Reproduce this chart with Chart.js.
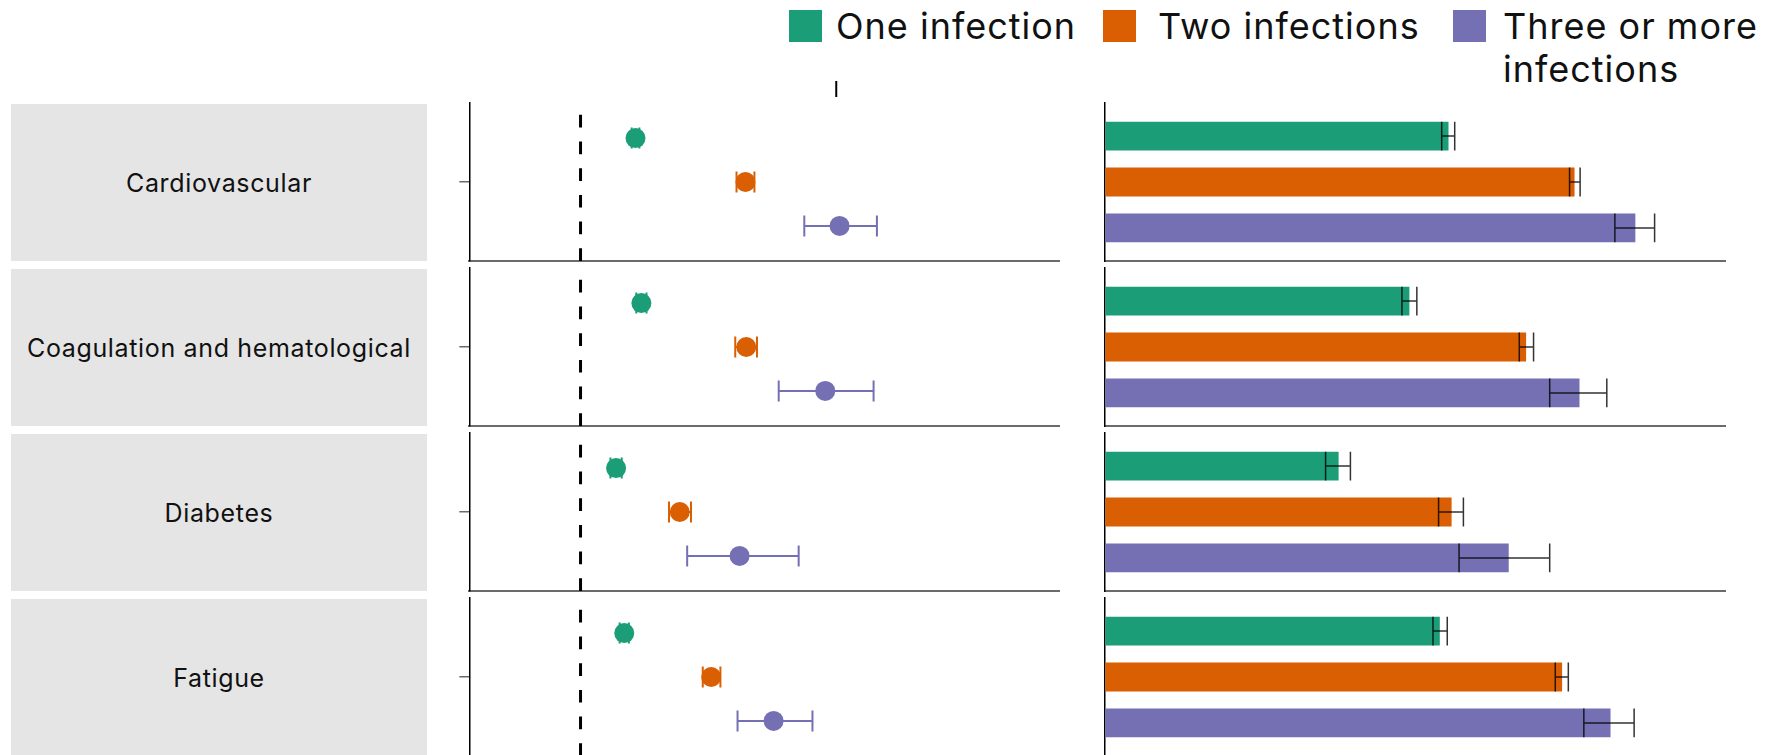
<!DOCTYPE html>
<html>
<head>
<meta charset="utf-8">
<script src="https://cdn.jsdelivr.net/npm/chart.js@4.4.0/dist/chart.umd.min.js"></script>
<style>
  html, body { margin: 0; padding: 0; background: #fff; }
  body {
    width: 1773px; height: 755px; position: relative; overflow: hidden;
    font-family: Inter, "Open Sans", sans-serif; color: #111;
  }
  .swatch { position: absolute; top: 10px; width: 33px; height: 32px; }
  .legend-text { position: absolute; top: 4.5px; font-size: 36px; line-height: 43px; letter-spacing: 1px; white-space: normal; }
  .label-box {
    position: absolute; left: 11px; width: 416px; height: 157px; background: #e5e5e5;
    display: flex; align-items: center; justify-content: center; font-size: 25px; letter-spacing: 0.65px;
  }
  canvas { position: absolute; }
</style>
</head>
<body>
<script>
// categories (one row of panels each)
const categories = ['Cardiovascular', 'Coagulation and hematological', 'Diabetes', 'Fatigue']
const seriesNames = ['One infection', 'Two infections', 'Three or more infections']
const seriesColors = ['#1b9e77', '#d95f02', '#7570b3']

// hazard ratios with 95% CI (left panels)
const hrOne     = [1.215, 1.238, 1.139, 1.171]
const hrOneLo   = [1.200, 1.218, 1.117, 1.153]
const hrOneHi   = [1.230, 1.258, 1.161, 1.189]
const hrTwo     = [1.645, 1.648, 1.388, 1.511]
const hrTwoLo   = [1.610, 1.605, 1.346, 1.478]
const hrTwoHi   = [1.680, 1.690, 1.432, 1.547]
const hrThree   = [2.013, 1.957, 1.622, 1.755]
const hrThreeLo = [1.875, 1.775, 1.417, 1.614]
const hrThreeHi = [2.159, 2.146, 1.853, 1.907]

// burden with 95% CI (right panels)
const burdenOne     = [55.3, 49.0, 37.6, 53.9]
const burdenOneLo   = [54.2, 47.8, 35.5, 52.8]
const burdenOneHi   = [56.3, 50.2, 39.5, 55.1]
const burdenTwo     = [75.6, 67.8, 55.8, 73.6]
const burdenTwoLo   = [74.8, 66.7, 53.7, 72.5]
const burdenTwoHi   = [76.5, 69.0, 57.7, 74.6]
const burdenThree   = [85.4, 76.4, 65.0, 81.4]
const burdenThreeLo = [82.1, 71.6, 57.0, 77.1]
const burdenThreeHi = [88.5, 80.8, 71.6, 85.2]

const hrSeries = [[hrOne, hrOneLo, hrOneHi], [hrTwo, hrTwoLo, hrTwoHi], [hrThree, hrThreeLo, hrThreeHi]]
const burdenSeries = [[burdenOne, burdenOneLo, burdenOneHi], [burdenTwo, burdenTwoLo, burdenTwoHi], [burdenThree, burdenThreeLo, burdenThreeHi]]

// layout
const rowTop0 = 103.3
const rowStep = 165
const padTop = 30

// legend (html)
const swatchLeft = [789, 1103, 1453]
const textLeft = [836, 1158, 1503]
seriesNames.forEach((name, i) => {
    const sw = document.createElement('div')
    sw.className = 'swatch'
    sw.style.left = swatchLeft[i] + 'px'
    sw.style.background = seriesColors[i]
    document.body.appendChild(sw)
    const tx = document.createElement('div')
    tx.className = 'legend-text'
    tx.style.left = textLeft[i] + 'px'
    if (i === 2) tx.style.width = '262px'
    tx.textContent = name
    document.body.appendChild(tx)
})

// HR = 1 reference line, CI whiskers, and the stray top tick
const forestExtras = {
    id: 'forestExtras',
    beforeDatasetsDraw(chart, args, opts) {
        const { ctx, chartArea, scales: { x, y } } = chart
        ctx.save()
        const x1 = x.getPixelForValue(1)
        ctx.strokeStyle = '#000'
        ctx.lineWidth = 3
        ctx.setLineDash([12.7, 14])
        ctx.beginPath()
        ctx.moveTo(x1, chartArea.bottom)
        ctx.lineTo(x1, chartArea.top)
        ctx.stroke()
        ctx.setLineDash([])

        chart.data.datasets.forEach(ds => {
            ctx.strokeStyle = ds.backgroundColor
            ctx.lineWidth = 2
            ds.data.forEach(pt => {
                const yp = y.getPixelForValue(pt.y)
                const lo = x.getPixelForValue(pt.lo)
                const hi = x.getPixelForValue(pt.hi)
                ctx.beginPath()
                ctx.moveTo(lo, yp); ctx.lineTo(hi, yp)
                ctx.moveTo(lo, yp - 10.5); ctx.lineTo(lo, yp + 10.5)
                ctx.moveTo(hi, yp - 10.5); ctx.lineTo(hi, yp + 10.5)
                ctx.stroke()
            })
        })

        if (opts.topTick) {
            const xt = x.getPixelForValue(opts.topTick)
            ctx.strokeStyle = '#000'
            ctx.lineWidth = 2
            ctx.beginPath()
            ctx.moveTo(xt, chartArea.top - 22)
            ctx.lineTo(xt, chartArea.top - 6)
            ctx.stroke()
        }
        ctx.restore()
    }
}

// CI whiskers on the bars
const barErrors = {
    id: 'barErrors',
    afterDatasetsDraw(chart) {
        const { ctx, scales: { x } } = chart
        ctx.save()
        ctx.strokeStyle = 'rgba(0,0,0,0.8)'
        ctx.lineWidth = 1.5
        chart.data.datasets.forEach((ds, d) => {
            const meta = chart.getDatasetMeta(d)
            ds.data.forEach((pt, j) => {
                const { y: yp, height: h } = meta.data[j].getProps(['y', 'height'], true)
                const lo = x.getPixelForValue(pt.lo)
                const hi = x.getPixelForValue(pt.hi)
                ctx.beginPath()
                ctx.moveTo(lo, yp); ctx.lineTo(hi, yp)
                ctx.moveTo(lo, yp - h / 2); ctx.lineTo(lo, yp + h / 2)
                ctx.moveTo(hi, yp - h / 2); ctx.lineTo(hi, yp + h / 2)
                ctx.stroke()
            })
        })
        ctx.restore()
    }
}

function makeCanvas(left, top, width, height) {
    const c = document.createElement('canvas')
    c.width = width
    c.height = height
    c.style.left = left + 'px'
    c.style.top = top + 'px'
    c.style.width = width + 'px'
    c.style.height = height + 'px'
    document.body.appendChild(c)
    return c
}

categories.forEach((cat, i) => {
    const top = rowTop0 + rowStep * i

    const box = document.createElement('div')
    box.className = 'label-box'
    box.style.top = (top + 0.7) + 'px'
    box.textContent = cat
    document.body.appendChild(box)

    // forest plot
    const fc = makeCanvas(440, top - padTop, 620, padTop + 158 + 4)
    new Chart(fc, {
        type: 'scatter',
        data: {
            datasets: seriesNames.map((name, s) => ({
                label: name,
                data: [{ x: hrSeries[s][0][i], y: s + 1, lo: hrSeries[s][1][i], hi: hrSeries[s][2][i] }],
                backgroundColor: seriesColors[s],
                borderWidth: 0,
                pointRadius: 10,
                pointHoverRadius: 10
            }))
        },
        options: {
            responsive: false,
            animation: false,
            events: [],
            layout: { padding: { top: padTop, right: 0, bottom: 0, left: 0 }, autoPadding: false },
            plugins: {
                legend: { display: false },
                tooltip: { enabled: false },
                forestExtras: { topTick: i === 0 ? 2 : null }
            },
            scales: {
                x: {
                    type: 'linear', min: 0.565, max: 2.875,
                    ticks: { display: false },
                    grid: { display: false },
                    border: { display: true, color: '#6b6b6b', width: 2 },
                    afterFit: s => { s.height = 4 }
                },
                y: {
                    type: 'linear', reverse: true, min: 0.2, max: 3.8, offset: false,
                    afterBuildTicks: s => { s.ticks = [{ value: 2 }] },
                    ticks: { display: false },
                    grid: { display: true, drawOnChartArea: false, drawTicks: true, tickLength: 10, color: '#6b6b6b', lineWidth: 1.5 },
                    border: { display: true, color: '#000', width: 1.5 },
                    afterFit: s => { s.width = 29.3 }
                }
            }
        },
        plugins: [forestExtras]
    })

    // burden bars
    const bc = makeCanvas(1095, top - padTop, 631, padTop + 158 + 4)
    new Chart(bc, {
        type: 'bar',
        data: {
            datasets: seriesNames.map((name, s) => ({
                label: name,
                data: [{ x: burdenSeries[s][0][i], y: s + 1, lo: burdenSeries[s][1][i], hi: burdenSeries[s][2][i] }],
                backgroundColor: seriesColors[s],
                borderWidth: 0,
                grouped: false,
                categoryPercentage: 1,
                barPercentage: 0.63
            }))
        },
        options: {
            indexAxis: 'y',
            responsive: false,
            animation: false,
            events: [],
            layout: { padding: { top: padTop, right: 0, bottom: 0, left: 0 }, autoPadding: false },
            plugins: { legend: { display: false }, tooltip: { enabled: false } },
            scales: {
                x: {
                    type: 'linear', min: 0, max: 100,
                    ticks: { display: false },
                    grid: { display: false },
                    border: { display: true, color: '#6b6b6b', width: 2 },
                    afterFit: s => { s.height = 4 }
                },
                y: {
                    type: 'linear', reverse: true, min: 0.278, max: 3.722, offset: false,
                    afterBuildTicks: s => { s.ticks = [{ value: 2 }] },
                    ticks: { display: false },
                    grid: { display: false, offset: false },
                    border: { display: true, color: '#000', width: 1.5 },
                    afterFit: s => { s.width = 10.2 }
                }
            }
        },
        plugins: [barErrors]
    })
})
</script>
</body>
</html>
